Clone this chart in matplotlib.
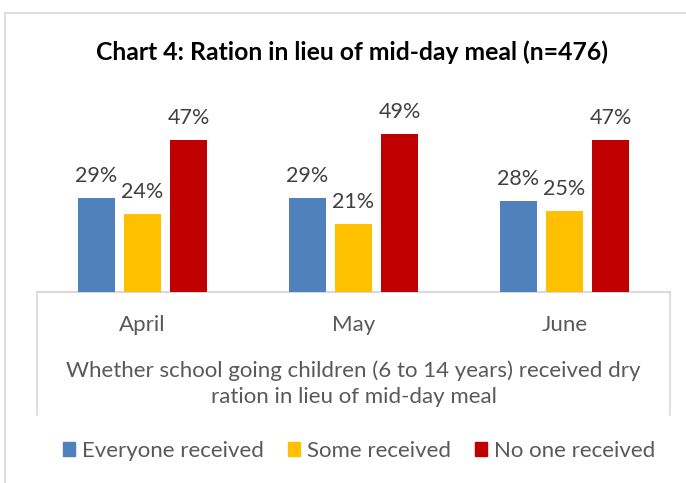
import matplotlib
matplotlib.use("Agg")
import matplotlib.pyplot as plt
import matplotlib.patches as mpatches
from matplotlib.lines import Line2D
import numpy as np

plt.rcParams['font.family'] = ['Lato', 'DejaVu Sans']

# データ
months = ["April", "May", "June"]
series_names = ["Everyone received", "Some received", "No one received"]
everyone = [29, 29, 28]
some = [24, 21, 25]
no_one = [47, 49, 47]
colors = ["#4F81BD", "#FFC000", "#C00000"]
title = "Chart 4: Ration in lieu of mid-day meal (n=476)"
axis_title = "Whether school going children (6 to 14 years) received dry\nration in lieu of mid-day meal"

W, H = 686, 483
fig = plt.figure(figsize=(W / 100, H / 100), dpi=100)

# 外枠（上と左）
border = "#D9D9D9"
fig.add_artist(Line2D([5 / W, 1], [1 - 13 / H, 1 - 13 / H], color=border, lw=1.2))
fig.add_artist(Line2D([5 / W, 5 / W], [0, 1 - 13 / H], color=border, lw=1.2))

# プロット領域
left, right, base, top = 37, 670, 292, 98
ax = fig.add_axes([left / W, 1 - base / H, (right - left) / W, (base - top) / H])

x = np.arange(len(months))
bw = 0.175
gap = 0.045
for i, (vals, c) in enumerate(zip([everyone, some, no_one], colors)):
    pos = x + (i - 1) * (bw + gap)
    bars = ax.bar(pos, [v / 100 for v in vals], width=bw, color=c, zorder=3)
    for b, v in zip(bars, vals):
        ax.annotate(f"{v}%", (b.get_x() + b.get_width() / 2, b.get_height()),
                    xytext=(0, 11.5), textcoords="offset points",
                    ha="center", va="baseline", fontsize=15.5, color="#404040",
                    annotation_clip=False)

ax.set_xlim(-0.5, len(months) - 0.5)
ax.set_ylim(0, 0.6)
ax.set_yticks([])
ax.set_xticks([])
for s in ["top", "right", "left"]:
    ax.spines[s].set_visible(False)
ax.spines["bottom"].set_color(border)
ax.spines["bottom"].set_linewidth(1.5)

# 多段カテゴリ軸の罫線
for px in (left, right):
    fig.add_artist(Line2D([px / W, px / W], [1 - base / H, 1 - 415 / H],
                          color=border, lw=1.2))

for i, m in enumerate(months):
    ax.text(i, -33 / (base - top) * 0.6, m, ha="center", va="center",
            fontsize=16, color="#595959")

fig.text((left + right) / 2 / W, 1 - 384 / H, axis_title, ha="center",
         va="center", fontsize=16, color="#595959", linespacing=1.38)

fig.text(352 / W, 1 - 52 / H, title, ha="center", va="center",
         fontsize=17.8, fontweight="bold", color="black")

# 凡例
handles = [mpatches.Patch(color=c, label=n) for c, n in zip(colors, series_names)]
fig.legend(handles=handles, loc="center", bbox_to_anchor=(359 / W, 1 - 451 / H),
           ncol=3, frameon=False, fontsize=16, handlelength=0.55, handleheight=0.55,
           handletextpad=0.3, columnspacing=1.1, labelcolor="#595959",
           borderaxespad=0, borderpad=0)

fig.savefig("out.png", dpi=100)
